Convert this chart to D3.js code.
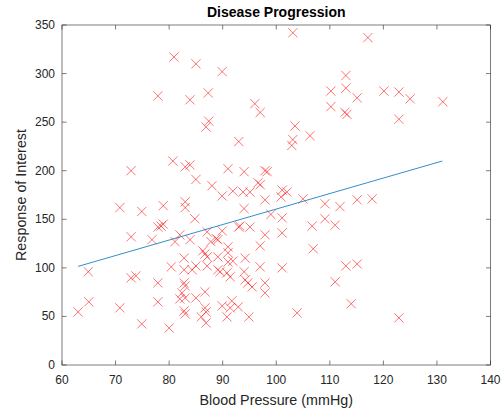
<!DOCTYPE html>
<html>
<head>
<meta charset="utf-8">
<script src="https://cdn.jsdelivr.net/npm/d3@7"></script>
<style>
  body { margin: 0; background: #fff; }
  svg { font-family: "Liberation Sans", Arial, sans-serif; }
</style>
</head>
<body>
<svg width="503" height="410"></svg>
<script>
// blood pressure (mmHg) and response
const bp = [
  103.1, 117.1, 80.9, 85, 77.9, 83.9, 87.3, 89.9, 96, 97, 110.2, 110.2, 103.5, 103.1, 102.9, 106.3,
  93, 87.4, 86.9, 113, 113, 115.1, 112.8, 113.2, 120.1, 122.9, 125, 131.1, 122.9,
  72.9, 80.7, 83.9, 83, 85, 70.8, 74.9, 78.9, 83, 83, 84.8, 77.9, 78.9, 78.5, 72.9, 76.8, 81.1,
  82, 83.9, 86.3, 91, 94, 97.9, 98.3, 97, 96.6, 88, 89.9, 91.9, 93.8, 95.1, 97.9, 101.1, 102,
  100.9, 105, 109.1, 111.9, 94, 99, 101.1, 109.1, 106.7, 111, 93, 93.2, 95.1, 89.9, 87.1, 97.9,
  101.1, 88.8, 89.1, 87.8, 91, 97, 106.9, 115.1, 117.9,
  64.9, 63, 65, 70.8, 72.9, 73.8, 74.9, 77.9, 77.9, 80, 80.4, 82.8, 82.8, 84.3, 85, 82.8, 83,
  82.4, 82, 83, 85, 82.8, 83, 86, 86.9, 86.7, 86.7, 86.9, 86.7, 87.1, 91, 91, 89.1, 91.9, 94.2,
  87.1, 89.1, 89.5, 90.8, 91.4, 97, 101.1, 94, 94.2, 94.7, 95.5, 97.9, 97.9, 111, 89.9, 91.7,
  91.4, 92.9, 90.8, 94.9, 103.9, 113, 115.1, 114, 122.9
];
const response = [
  342, 337, 317, 310, 277, 273, 280, 302, 269, 260, 282, 266, 246, 232, 226, 236,
  230, 251, 245, 298, 285, 275, 260, 258, 282, 281, 274, 271, 253,
  200, 210, 206, 204, 191, 162, 158, 164, 168, 162, 150.5, 142, 145, 143, 132, 129, 127,
  134, 129, 117.5, 202, 199, 200, 199, 185.6, 187.6, 184.5, 174, 179, 178, 178, 170, 180, 178,
  173, 171, 166, 163, 161, 155, 151.5, 150.5, 143, 144, 142, 143, 142, 138, 137, 134,
  136, 130, 129, 127, 121.6, 122.7, 119.6, 170, 171,
  96, 54.6, 65, 58.8, 89.7, 91.8, 42.3, 84.5, 65, 38, 101, 110, 98, 98, 102, 84.5, 81.4,
  74.2, 68, 69, 69, 55.7, 52.6, 49.5, 54.6, 75.3, 58.8, 43.3, 114.4, 111.3, 115.5, 106, 111.3, 107, 110,
  102, 98, 96, 94.8, 90.7, 101, 100, 96, 87.6, 84.5, 80.4, 84.5, 74.2, 85.6, 60.8, 66,
  58.8, 59.8, 49.5, 49.5, 53.6, 102, 104, 63, 48.5
];

// least-squares line ends
const fitX = [63, 131];
const fitY = [101.5, 210];

const xTicks = [60, 70, 80, 90, 100, 110, 120, 130, 140];
const yTicks = [0, 50, 100, 150, 200, 250, 300, 350];

const svg = d3.select("svg");
const mLeft = 62, mRight = 490.5, mTop = 25, mBottom = 365;
const axisColor = "#262626";

const x = d3.scaleLinear().domain([60, 140]).range([mLeft, mRight]);
const y = d3.scaleLinear().domain([0, 350]).range([mBottom, mTop]);

const tickLen = 4.5;

// ticks (inward, on all four sides)
const g = svg.append("g")
  .attr("stroke", axisColor)
  .attr("stroke-width", 0.6);

g.selectAll(".xt").data(xTicks).enter().append("line")
  .attr("x1", d => x(d)).attr("x2", d => x(d))
  .attr("y1", mBottom).attr("y2", mBottom - tickLen);
g.selectAll(".xtt").data(xTicks).enter().append("line")
  .attr("x1", d => x(d)).attr("x2", d => x(d))
  .attr("y1", mTop).attr("y2", mTop + tickLen);
g.selectAll(".yt").data(yTicks).enter().append("line")
  .attr("y1", d => y(d)).attr("y2", d => y(d))
  .attr("x1", mLeft).attr("x2", mLeft + tickLen);
g.selectAll(".ytr").data(yTicks).enter().append("line")
  .attr("y1", d => y(d)).attr("y2", d => y(d))
  .attr("x1", mRight).attr("x2", mRight - tickLen);

// box
g.append("rect")
  .attr("x", mLeft).attr("y", mTop)
  .attr("width", mRight - mLeft).attr("height", mBottom - mTop)
  .attr("fill", "none");

// tick labels
svg.selectAll(".xl").data(xTicks).enter().append("text")
  .attr("x", d => x(d)).attr("y", mBottom + 19)
  .attr("text-anchor", "middle")
  .attr("font-size", 12)
  .attr("fill", axisColor)
  .text(d => d);

svg.selectAll(".yl").data(yTicks).enter().append("text")
  .attr("x", mLeft - 7).attr("y", d => y(d) + 4)
  .attr("text-anchor", "end")
  .attr("font-size", 12)
  .attr("fill", axisColor)
  .text(d => d);

// scatter of crosses
const pts = bp.map((v, i) => [v, response[i]]);
const s = 4.6;
const marks = svg.append("g")
  .attr("stroke", "#ff0000")
  .attr("stroke-opacity", 0.55)
  .attr("stroke-width", 1);

marks.selectAll("path").data(pts).enter().append("path")
  .attr("d", d => {
    const cx = x(d[0]), cy = y(d[1]);
    return `M${cx - s},${cy - s}L${cx + s},${cy + s}M${cx - s},${cy + s}L${cx + s},${cy - s}`;
  })
  .attr("fill", "none");

// fit line
svg.append("line")
  .attr("x1", x(fitX[0])).attr("y1", y(fitY[0]))
  .attr("x2", x(fitX[1])).attr("y2", y(fitY[1]))
  .attr("stroke", "#0072BD")
  .attr("stroke-opacity", 0.8)
  .attr("stroke-width", 1);

// titles
svg.append("text")
  .attr("x", (mLeft + mRight) / 2).attr("y", 17)
  .attr("text-anchor", "middle")
  .attr("font-size", 14)
  .attr("font-weight", "bold")
  .attr("fill", "#000")
  .text("Disease Progression");

svg.append("text")
  .attr("x", (mLeft + mRight) / 2).attr("y", 405)
  .attr("text-anchor", "middle")
  .attr("font-size", 14.3)
  .attr("fill", axisColor)
  .text("Blood Pressure (mmHg)");

svg.append("text")
  .attr("transform", `translate(26,${(mTop + mBottom) / 2}) rotate(-90)`)
  .attr("text-anchor", "middle")
  .attr("font-size", 14.3)
  .attr("fill", axisColor)
  .text("Response of Interest");
</script>
</body>
</html>
